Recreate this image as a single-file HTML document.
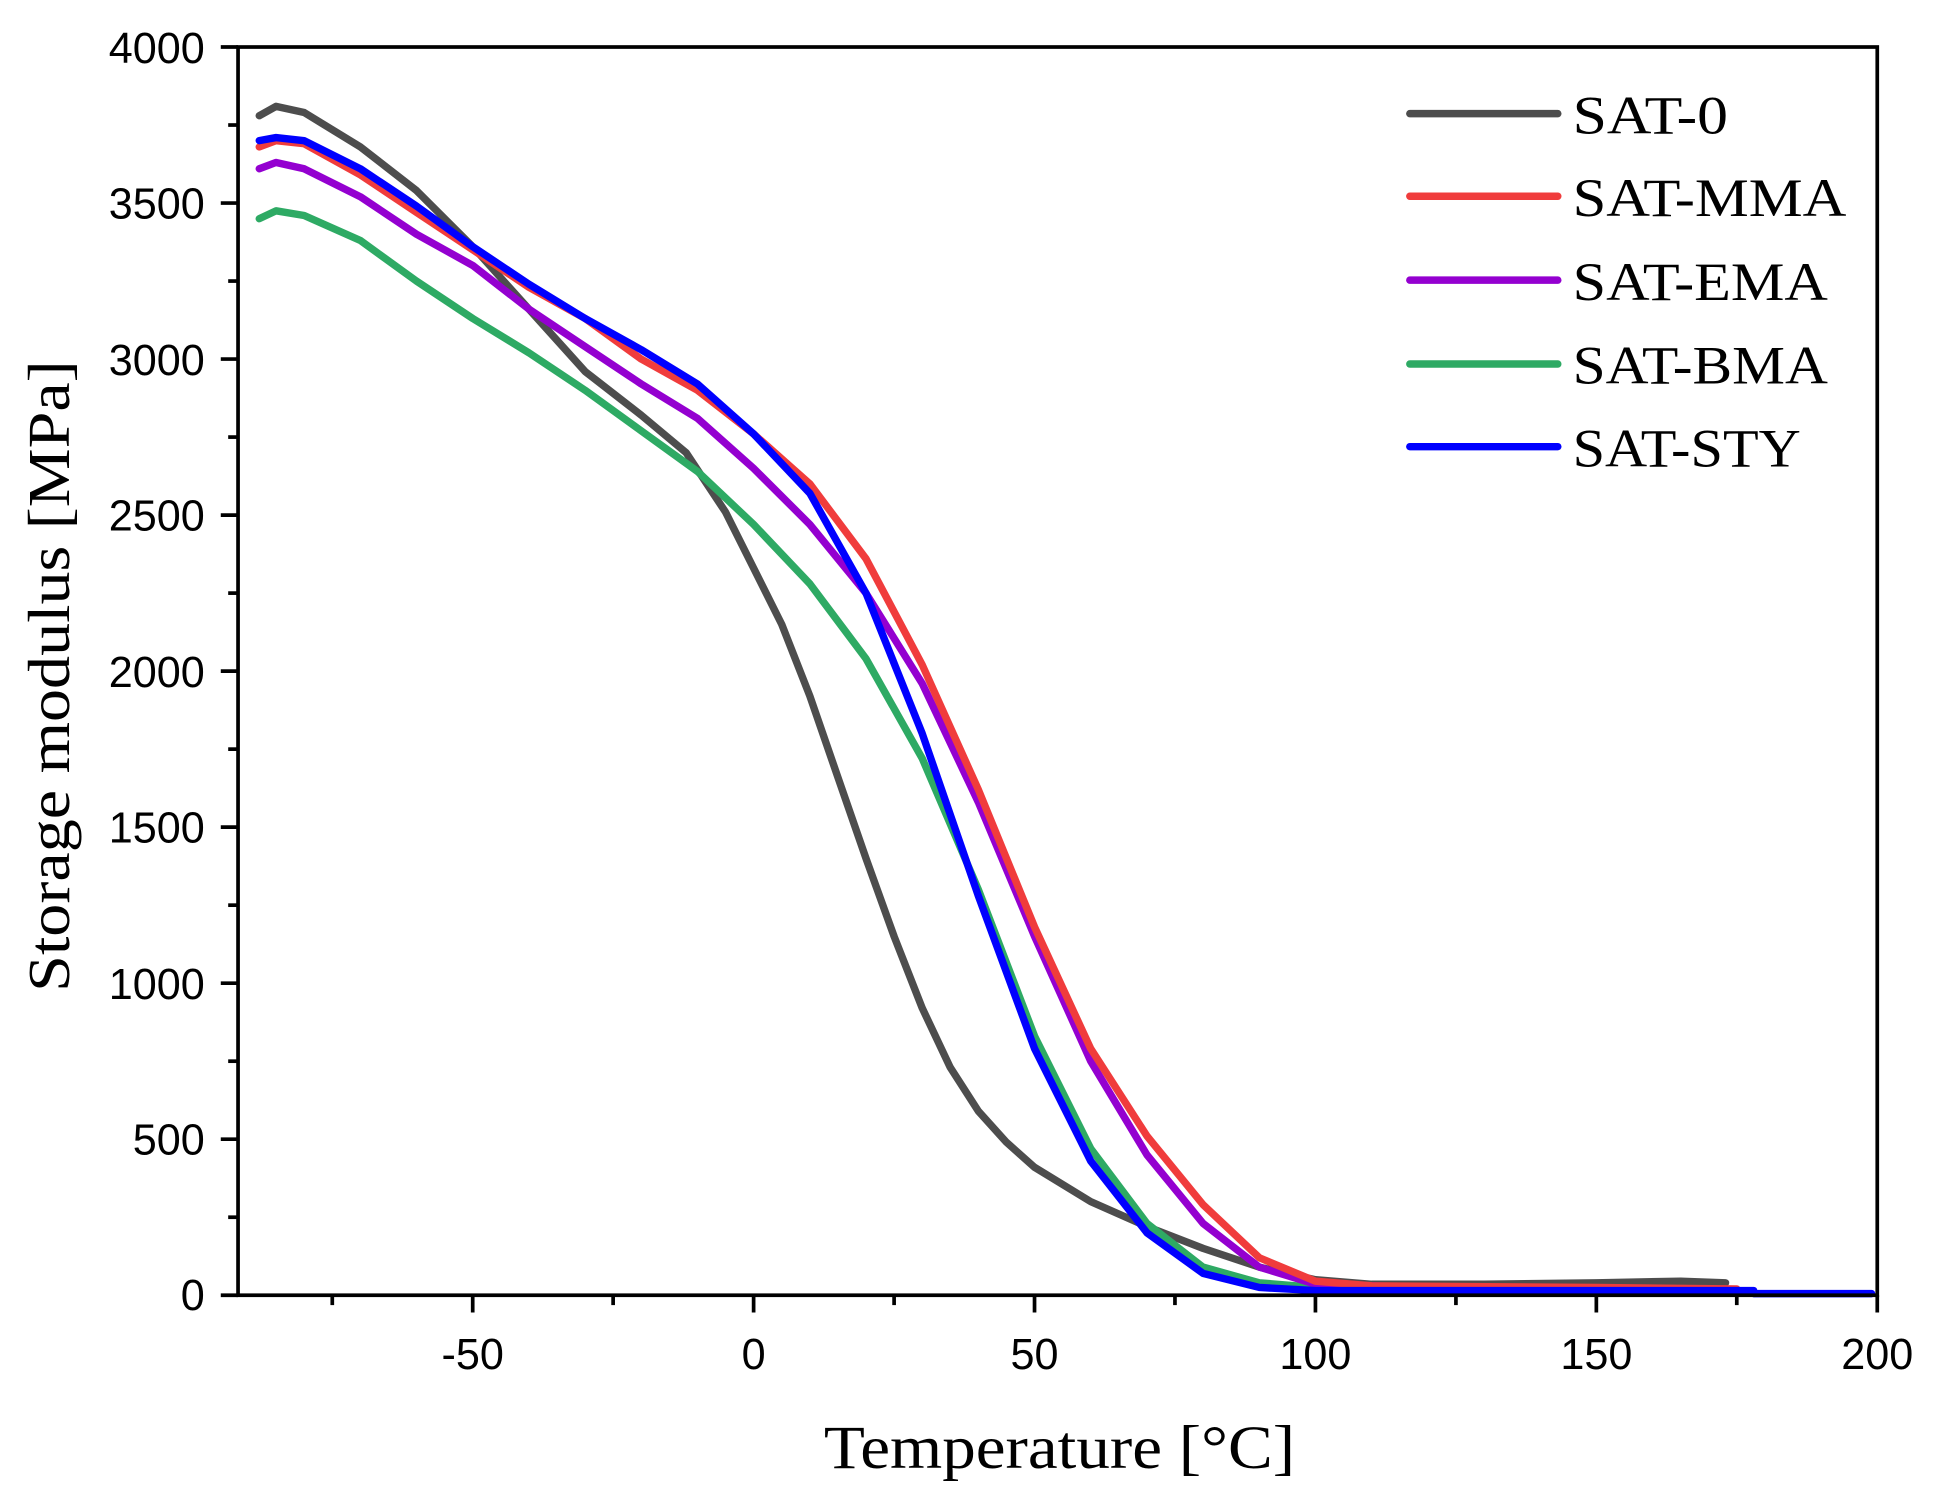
<!DOCTYPE html>
<html><head><meta charset="utf-8"><style>html,body{margin:0;padding:0;background:#fff;}svg{display:block;}</style></head>
<body>
<svg width="1934" height="1510" viewBox="0 0 1568 1224" xmlns="http://www.w3.org/2000/svg">
<rect width="1568" height="1224" fill="#fff"/>
<g fill="none" stroke-width="6" stroke-linecap="round" stroke-linejoin="round">
<polyline stroke="#4d4d4d" points="210.2,93.7 223.8,86.1 246.6,91.1 292.2,119 337.7,154.4 383.3,199.9 428.8,250.5 474.4,301.1 519.9,336.5 556.3,366.9 588.2,415 611,460.5 633.8,506.1 656.6,564.2 679.3,630 702.1,695.8 724.9,759.1 747.7,817.2 770.4,865.3 793.2,900.7 816,926 838.8,946.3 884.3,974.1 929.9,994.3 975.4,1012 1021,1027.2 1066.5,1037.4 1112.1,1041.1 1203.2,1041.1 1294.3,1039.9 1362.6,1038.6 1399,1039.9"/>
<polyline stroke="#2eaa64" points="210.2,177.2 223.8,170.8 246.6,174.6 292.2,194.9 337.7,227.8 383.3,258.1 428.8,285.9 474.4,316.3 519.9,349.2 565.5,382.1 611,425.1 656.6,473.2 702.1,533.9 747.7,614.8 793.2,721.1 838.8,840 884.3,931.1 929.9,991.8 975.4,1027.2 1021,1039.9 1066.5,1043.7 1339.8,1044.9"/>
<polyline stroke="#9400d0" points="210.2,136.7 223.8,131.6 246.6,136.7 292.2,159.4 337.7,189.8 383.3,215.1 428.8,250.5 474.4,280.9 519.9,311.2 565.5,339.1 611,379.6 656.6,425.1 702.1,480.8 747.7,554.1 793.2,650.3 838.8,759.1 884.3,860.3 929.9,936.2 975.4,991.8 1021,1027.2 1066.5,1041.1 1157.6,1043.7 1408.1,1046.2"/>
<polyline stroke="#f03c3c" points="210.2,119 223.8,113.9 246.6,116.4 292.2,141.7 337.7,172.1 383.3,202.4 428.8,232.8 474.4,258.1 519.9,291 565.5,316.3 611,351.7 656.6,392.2 702.1,452.9 747.7,538.9 793.2,640.1 838.8,751.5 884.3,850.1 929.9,920.9 975.4,976.6 1021,1019.6 1066.5,1038.6 1112.1,1042.4 1294.3,1043.7 1408.1,1044.9"/>
<polyline stroke="#0000ff" points="210.2,113.9 223.8,111.4 246.6,113.9 292.2,136.7 337.7,167 383.3,199.9 428.8,230.3 474.4,258.1 519.9,283.4 565.5,311.2 611,351.7 656.6,399.8 702.1,480.8 747.7,594.6 793.2,726.2 838.8,850.1 884.3,941.2 929.9,999.4 975.4,1032.3 1021,1043.7 1066.5,1046.2 1421.8,1046.2 1421.8,1048.7 1517.4,1048.7"/>
</g>
<rect x="193" y="38" width="1329" height="1012" fill="none" stroke="#000" stroke-width="3"/>
<g stroke="#000" stroke-width="3">
<line x1="269.4" y1="1050" x2="269.4" y2="1058"/><line x1="383.25" y1="1050" x2="383.25" y2="1064"/>
<line x1="497.1" y1="1050" x2="497.1" y2="1058"/><line x1="611" y1="1050" x2="611" y2="1064"/>
<line x1="724.9" y1="1050" x2="724.9" y2="1058"/><line x1="838.75" y1="1050" x2="838.75" y2="1064"/>
<line x1="952.6" y1="1050" x2="952.6" y2="1058"/><line x1="1066.5" y1="1050" x2="1066.5" y2="1064"/>
<line x1="1180.4" y1="1050" x2="1180.4" y2="1058"/><line x1="1294.25" y1="1050" x2="1294.25" y2="1064"/>
<line x1="1408.1" y1="1050" x2="1408.1" y2="1058"/><line x1="1522" y1="1050" x2="1522" y2="1064"/>
<line x1="179" y1="1050" x2="193" y2="1050"/><line x1="185" y1="986.75" x2="193" y2="986.75"/>
<line x1="179" y1="923.5" x2="193" y2="923.5"/><line x1="185" y1="860.25" x2="193" y2="860.25"/>
<line x1="179" y1="797" x2="193" y2="797"/><line x1="185" y1="733.75" x2="193" y2="733.75"/>
<line x1="179" y1="670.5" x2="193" y2="670.5"/><line x1="185" y1="607.25" x2="193" y2="607.25"/>
<line x1="179" y1="544" x2="193" y2="544"/><line x1="185" y1="480.75" x2="193" y2="480.75"/>
<line x1="179" y1="417.5" x2="193" y2="417.5"/><line x1="185" y1="354.25" x2="193" y2="354.25"/>
<line x1="179" y1="291" x2="193" y2="291"/><line x1="185" y1="227.75" x2="193" y2="227.75"/>
<line x1="179" y1="164.5" x2="193" y2="164.5"/><line x1="185" y1="101.25" x2="193" y2="101.25"/>
<line x1="179" y1="38" x2="193" y2="38"/>
</g>
<g font-family="Liberation Sans, Arial, sans-serif" font-size="35" fill="#000" text-anchor="middle">
<text x="383.25" y="1110">-50</text><text x="611" y="1110">0</text><text x="838.75" y="1110">50</text>
<text x="1066.5" y="1110">100</text><text x="1294.25" y="1110">150</text><text x="1522" y="1110">200</text>
</g>
<g font-family="Liberation Sans, Arial, sans-serif" font-size="35" fill="#000" text-anchor="end">
<text x="166" y="1062">0</text><text x="166" y="936">500</text><text x="166" y="810">1000</text>
<text x="166" y="683">1500</text><text x="166" y="557">2000</text><text x="166" y="430">2500</text>
<text x="166" y="304">3000</text><text x="166" y="177">3500</text><text x="166" y="51">4000</text>
</g>
<text x="0" y="0" font-family="Liberation Serif, serif" font-size="48" textLength="512" lengthAdjust="spacingAndGlyphs" transform="translate(56 804) rotate(-90)">Storage modulus [MPa]</text>
<text x="668" y="1190" font-family="Liberation Serif, serif" font-size="50" textLength="382" lengthAdjust="spacingAndGlyphs">Temperature [°C]</text>
<g font-family="Liberation Serif, serif" font-size="44" fill="#000" stroke-width="6" stroke-linecap="round">
<line x1="1143" y1="92" x2="1263" y2="92" stroke="#4d4d4d"/><text x="1275" y="108" textLength="126" lengthAdjust="spacingAndGlyphs">SAT-0</text>
<line x1="1143" y1="159" x2="1263" y2="159" stroke="#f03c3c"/><text x="1275" y="175" textLength="222" lengthAdjust="spacingAndGlyphs">SAT-MMA</text>
<line x1="1143" y1="227" x2="1263" y2="227" stroke="#9400d0"/><text x="1275" y="243" textLength="207" lengthAdjust="spacingAndGlyphs">SAT-EMA</text>
<line x1="1143" y1="295" x2="1263" y2="295" stroke="#2eaa64"/><text x="1275" y="311" textLength="207" lengthAdjust="spacingAndGlyphs">SAT-BMA</text>
<line x1="1143" y1="362" x2="1263" y2="362" stroke="#0000ff"/><text x="1275" y="378" textLength="185" lengthAdjust="spacingAndGlyphs">SAT-STY</text>
</g>
</svg>
</body></html>
